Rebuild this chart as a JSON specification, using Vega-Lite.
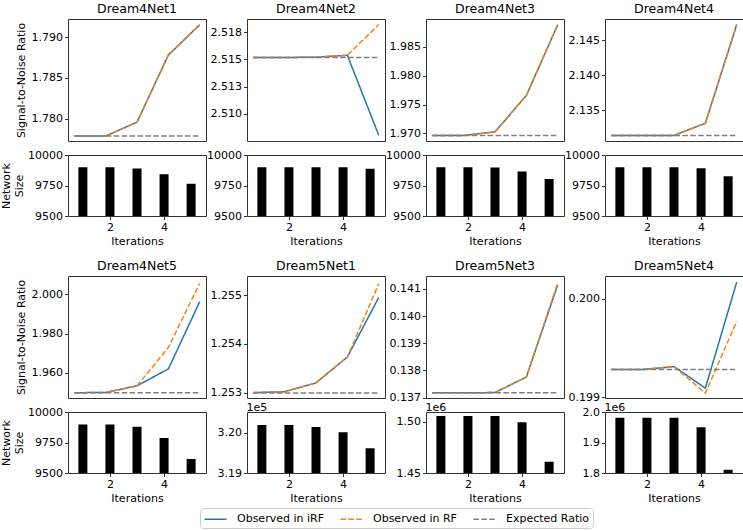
{
  "$schema": "https://vega.github.io/schema/vega-lite/v6.json",
  "padding": {"left": 0, "top": 2, "right": 0, "bottom": 0},
  "background": "white",
  "datasets": {
    "snr": [
      {"net":"Dream4Net1","iter":1,"series":"Observed in iRF","snr":1.7779},
      {"net":"Dream4Net1","iter":2,"series":"Observed in iRF","snr":1.7779},
      {"net":"Dream4Net1","iter":3,"series":"Observed in iRF","snr":1.7796},
      {"net":"Dream4Net1","iter":4,"series":"Observed in iRF","snr":1.7878},
      {"net":"Dream4Net1","iter":5,"series":"Observed in iRF","snr":1.7915},
      {"net":"Dream4Net1","iter":1,"series":"Observed in RF","snr":1.7779},
      {"net":"Dream4Net1","iter":2,"series":"Observed in RF","snr":1.7779},
      {"net":"Dream4Net1","iter":3,"series":"Observed in RF","snr":1.7796},
      {"net":"Dream4Net1","iter":4,"series":"Observed in RF","snr":1.7878},
      {"net":"Dream4Net1","iter":5,"series":"Observed in RF","snr":1.7915},
      {"net":"Dream4Net1","iter":1,"series":"Expected Ratio","snr":1.7779},
      {"net":"Dream4Net1","iter":2,"series":"Expected Ratio","snr":1.7779},
      {"net":"Dream4Net1","iter":3,"series":"Expected Ratio","snr":1.7779},
      {"net":"Dream4Net1","iter":4,"series":"Expected Ratio","snr":1.7779},
      {"net":"Dream4Net1","iter":5,"series":"Expected Ratio","snr":1.7779},

      {"net":"Dream4Net2","iter":1,"series":"Observed in iRF","snr":2.51516},
      {"net":"Dream4Net2","iter":2,"series":"Observed in iRF","snr":2.51516},
      {"net":"Dream4Net2","iter":3,"series":"Observed in iRF","snr":2.5152},
      {"net":"Dream4Net2","iter":4,"series":"Observed in iRF","snr":2.51537},
      {"net":"Dream4Net2","iter":5,"series":"Observed in iRF","snr":2.50803},
      {"net":"Dream4Net2","iter":1,"series":"Observed in RF","snr":2.51516},
      {"net":"Dream4Net2","iter":2,"series":"Observed in RF","snr":2.51516},
      {"net":"Dream4Net2","iter":3,"series":"Observed in RF","snr":2.5152},
      {"net":"Dream4Net2","iter":4,"series":"Observed in RF","snr":2.51537},
      {"net":"Dream4Net2","iter":5,"series":"Observed in RF","snr":2.51819},
      {"net":"Dream4Net2","iter":1,"series":"Expected Ratio","snr":2.51516},
      {"net":"Dream4Net2","iter":2,"series":"Expected Ratio","snr":2.51516},
      {"net":"Dream4Net2","iter":3,"series":"Expected Ratio","snr":2.51516},
      {"net":"Dream4Net2","iter":4,"series":"Expected Ratio","snr":2.51516},
      {"net":"Dream4Net2","iter":5,"series":"Expected Ratio","snr":2.51516},

      {"net":"Dream4Net3","iter":1,"series":"Observed in iRF","snr":1.96966},
      {"net":"Dream4Net3","iter":2,"series":"Observed in iRF","snr":1.96966},
      {"net":"Dream4Net3","iter":3,"series":"Observed in iRF","snr":1.97028},
      {"net":"Dream4Net3","iter":4,"series":"Observed in iRF","snr":1.97658},
      {"net":"Dream4Net3","iter":5,"series":"Observed in iRF","snr":1.98881},
      {"net":"Dream4Net3","iter":1,"series":"Observed in RF","snr":1.96966},
      {"net":"Dream4Net3","iter":2,"series":"Observed in RF","snr":1.96966},
      {"net":"Dream4Net3","iter":3,"series":"Observed in RF","snr":1.97028},
      {"net":"Dream4Net3","iter":4,"series":"Observed in RF","snr":1.97658},
      {"net":"Dream4Net3","iter":5,"series":"Observed in RF","snr":1.98881},
      {"net":"Dream4Net3","iter":1,"series":"Expected Ratio","snr":1.96966},
      {"net":"Dream4Net3","iter":2,"series":"Expected Ratio","snr":1.96966},
      {"net":"Dream4Net3","iter":3,"series":"Expected Ratio","snr":1.96966},
      {"net":"Dream4Net3","iter":4,"series":"Expected Ratio","snr":1.96966},
      {"net":"Dream4Net3","iter":5,"series":"Expected Ratio","snr":1.96966},

      {"net":"Dream4Net4","iter":1,"series":"Observed in iRF","snr":2.1314},
      {"net":"Dream4Net4","iter":2,"series":"Observed in iRF","snr":2.1314},
      {"net":"Dream4Net4","iter":3,"series":"Observed in iRF","snr":2.1314},
      {"net":"Dream4Net4","iter":4,"series":"Observed in iRF","snr":2.13313},
      {"net":"Dream4Net4","iter":5,"series":"Observed in iRF","snr":2.14721},
      {"net":"Dream4Net4","iter":1,"series":"Observed in RF","snr":2.1314},
      {"net":"Dream4Net4","iter":2,"series":"Observed in RF","snr":2.1314},
      {"net":"Dream4Net4","iter":3,"series":"Observed in RF","snr":2.1314},
      {"net":"Dream4Net4","iter":4,"series":"Observed in RF","snr":2.13313},
      {"net":"Dream4Net4","iter":5,"series":"Observed in RF","snr":2.14721},
      {"net":"Dream4Net4","iter":1,"series":"Expected Ratio","snr":2.1314},
      {"net":"Dream4Net4","iter":2,"series":"Expected Ratio","snr":2.1314},
      {"net":"Dream4Net4","iter":3,"series":"Expected Ratio","snr":2.1314},
      {"net":"Dream4Net4","iter":4,"series":"Expected Ratio","snr":2.1314},
      {"net":"Dream4Net4","iter":5,"series":"Expected Ratio","snr":2.1314},

      {"net":"Dream4Net5","iter":1,"series":"Observed in iRF","snr":1.9499},
      {"net":"Dream4Net5","iter":2,"series":"Observed in iRF","snr":1.95},
      {"net":"Dream4Net5","iter":3,"series":"Observed in iRF","snr":1.95342},
      {"net":"Dream4Net5","iter":4,"series":"Observed in iRF","snr":1.96202},
      {"net":"Dream4Net5","iter":5,"series":"Observed in iRF","snr":1.9963},
      {"net":"Dream4Net5","iter":1,"series":"Observed in RF","snr":1.9499},
      {"net":"Dream4Net5","iter":2,"series":"Observed in RF","snr":1.95},
      {"net":"Dream4Net5","iter":3,"series":"Observed in RF","snr":1.95342},
      {"net":"Dream4Net5","iter":4,"series":"Observed in RF","snr":1.97292},
      {"net":"Dream4Net5","iter":5,"series":"Observed in RF","snr":2.00572},
      {"net":"Dream4Net5","iter":1,"series":"Expected Ratio","snr":1.9499},
      {"net":"Dream4Net5","iter":2,"series":"Expected Ratio","snr":1.9499},
      {"net":"Dream4Net5","iter":3,"series":"Expected Ratio","snr":1.9499},
      {"net":"Dream4Net5","iter":4,"series":"Expected Ratio","snr":1.9499},
      {"net":"Dream4Net5","iter":5,"series":"Expected Ratio","snr":1.9499},

      {"net":"Dream5Net1","iter":1,"series":"Observed in iRF","snr":1.253},
      {"net":"Dream5Net1","iter":2,"series":"Observed in iRF","snr":1.25302},
      {"net":"Dream5Net1","iter":3,"series":"Observed in iRF","snr":1.2532},
      {"net":"Dream5Net1","iter":4,"series":"Observed in iRF","snr":1.25373},
      {"net":"Dream5Net1","iter":5,"series":"Observed in iRF","snr":1.25495},
      {"net":"Dream5Net1","iter":1,"series":"Observed in RF","snr":1.253},
      {"net":"Dream5Net1","iter":2,"series":"Observed in RF","snr":1.25302},
      {"net":"Dream5Net1","iter":3,"series":"Observed in RF","snr":1.2532},
      {"net":"Dream5Net1","iter":4,"series":"Observed in RF","snr":1.25373},
      {"net":"Dream5Net1","iter":5,"series":"Observed in RF","snr":1.25523},
      {"net":"Dream5Net1","iter":1,"series":"Expected Ratio","snr":1.25299},
      {"net":"Dream5Net1","iter":2,"series":"Expected Ratio","snr":1.25299},
      {"net":"Dream5Net1","iter":3,"series":"Expected Ratio","snr":1.25299},
      {"net":"Dream5Net1","iter":4,"series":"Expected Ratio","snr":1.25299},
      {"net":"Dream5Net1","iter":5,"series":"Expected Ratio","snr":1.25299},

      {"net":"Dream5Net3","iter":1,"series":"Observed in iRF","snr":0.13718},
      {"net":"Dream5Net3","iter":2,"series":"Observed in iRF","snr":0.13718},
      {"net":"Dream5Net3","iter":3,"series":"Observed in iRF","snr":0.13719},
      {"net":"Dream5Net3","iter":4,"series":"Observed in iRF","snr":0.13776},
      {"net":"Dream5Net3","iter":5,"series":"Observed in iRF","snr":0.14115},
      {"net":"Dream5Net3","iter":1,"series":"Observed in RF","snr":0.13718},
      {"net":"Dream5Net3","iter":2,"series":"Observed in RF","snr":0.13718},
      {"net":"Dream5Net3","iter":3,"series":"Observed in RF","snr":0.13719},
      {"net":"Dream5Net3","iter":4,"series":"Observed in RF","snr":0.13776},
      {"net":"Dream5Net3","iter":5,"series":"Observed in RF","snr":0.14122},
      {"net":"Dream5Net3","iter":1,"series":"Expected Ratio","snr":0.13718},
      {"net":"Dream5Net3","iter":2,"series":"Expected Ratio","snr":0.13718},
      {"net":"Dream5Net3","iter":3,"series":"Expected Ratio","snr":0.13718},
      {"net":"Dream5Net3","iter":4,"series":"Expected Ratio","snr":0.13718},
      {"net":"Dream5Net3","iter":5,"series":"Expected Ratio","snr":0.13718},

      {"net":"Dream5Net4","iter":1,"series":"Observed in iRF","snr":0.19928},
      {"net":"Dream5Net4","iter":2,"series":"Observed in iRF","snr":0.19928},
      {"net":"Dream5Net4","iter":3,"series":"Observed in iRF","snr":0.19931},
      {"net":"Dream5Net4","iter":4,"series":"Observed in iRF","snr":0.19909},
      {"net":"Dream5Net4","iter":5,"series":"Observed in iRF","snr":0.20017},
      {"net":"Dream5Net4","iter":1,"series":"Observed in RF","snr":0.19928},
      {"net":"Dream5Net4","iter":2,"series":"Observed in RF","snr":0.19928},
      {"net":"Dream5Net4","iter":3,"series":"Observed in RF","snr":0.19931},
      {"net":"Dream5Net4","iter":4,"series":"Observed in RF","snr":0.19904},
      {"net":"Dream5Net4","iter":5,"series":"Observed in RF","snr":0.19977},
      {"net":"Dream5Net4","iter":1,"series":"Expected Ratio","snr":0.19928},
      {"net":"Dream5Net4","iter":2,"series":"Expected Ratio","snr":0.19928},
      {"net":"Dream5Net4","iter":3,"series":"Expected Ratio","snr":0.19928},
      {"net":"Dream5Net4","iter":4,"series":"Expected Ratio","snr":0.19928},
      {"net":"Dream5Net4","iter":5,"series":"Expected Ratio","snr":0.19928}
    ],
    "size": [
      {"net":"Dream4Net1","iter":1,"size":9900},
      {"net":"Dream4Net1","iter":2,"size":9900},
      {"net":"Dream4Net1","iter":3,"size":9889},
      {"net":"Dream4Net1","iter":4,"size":9842},
      {"net":"Dream4Net1","iter":5,"size":9765},
      {"net":"Dream4Net2","iter":1,"size":9900},
      {"net":"Dream4Net2","iter":2,"size":9900},
      {"net":"Dream4Net2","iter":3,"size":9900},
      {"net":"Dream4Net2","iter":4,"size":9900},
      {"net":"Dream4Net2","iter":5,"size":9887},
      {"net":"Dream4Net3","iter":1,"size":9900},
      {"net":"Dream4Net3","iter":2,"size":9900},
      {"net":"Dream4Net3","iter":3,"size":9897},
      {"net":"Dream4Net3","iter":4,"size":9865},
      {"net":"Dream4Net3","iter":5,"size":9804},
      {"net":"Dream4Net4","iter":1,"size":9900},
      {"net":"Dream4Net4","iter":2,"size":9900},
      {"net":"Dream4Net4","iter":3,"size":9900},
      {"net":"Dream4Net4","iter":4,"size":9892},
      {"net":"Dream4Net4","iter":5,"size":9826},
      {"net":"Dream4Net5","iter":1,"size":9898},
      {"net":"Dream4Net5","iter":2,"size":9898},
      {"net":"Dream4Net5","iter":3,"size":9880},
      {"net":"Dream4Net5","iter":4,"size":9787},
      {"net":"Dream4Net5","iter":5,"size":9615},
      {"net":"Dream5Net1","iter":1,"size":320191},
      {"net":"Dream5Net1","iter":2,"size":320191},
      {"net":"Dream5Net1","iter":3,"size":320141},
      {"net":"Dream5Net1","iter":4,"size":320010},
      {"net":"Dream5Net1","iter":5,"size":319613},
      {"net":"Dream5Net3","iter":1,"size":1505900},
      {"net":"Dream5Net3","iter":2,"size":1505900},
      {"net":"Dream5Net3","iter":3,"size":1505900},
      {"net":"Dream5Net3","iter":4,"size":1499700},
      {"net":"Dream5Net3","iter":5,"size":1461100},
      {"net":"Dream5Net4","iter":1,"size":1981300},
      {"net":"Dream5Net4","iter":2,"size":1981300},
      {"net":"Dream5Net4","iter":3,"size":1981300},
      {"net":"Dream5Net4","iter":4,"size":1949800},
      {"net":"Dream5Net4","iter":5,"size":1810800}
    ],
    "empty": []
  },
  "bounds": "flush",
  "columns": 4,
  "spacing": {"row": 14, "column": 41},
  "concat": [
    {
      "width": 138, "height": 122, "title": "Dream4Net1",
      "data": {"name": "snr"},
      "transform": [{"filter": "datum.net === 'Dream4Net1'"}],
      "mark": {"type": "line", "strokeWidth": 1.5},
      "encoding": {
        "x": {"field": "iter", "type": "quantitative", "scale": {"domain": [0.8, 5.2], "nice": false, "zero": false}, "axis": null},
        "y": {"field": "snr", "type": "quantitative", "scale": {"domain": [1.7773, 1.7922], "nice": false, "zero": false}, "axis": {"values": [1.78, 1.785, 1.79], "format": ".3f", "title": "Signal-to-Noise Ratio", "titlePadding": 5}},
        "color": {"field": "series", "type": "nominal", "scale": {"domain": ["Observed in iRF", "Observed in RF", "Expected Ratio"], "range": ["#1f77b4", "#ff7f0e", "#7f7f7f"]}, "legend": {"title": null, "orient": "none", "legendX": 132, "legendY": 489, "direction": "horizontal", "columns": 3}},
        "strokeDash": {"field": "series", "type": "nominal", "scale": {"domain": ["Observed in iRF", "Observed in RF", "Expected Ratio"], "range": [[1, 0], [5.5, 2.4], [5.5, 2.4]]}, "legend": {"title": null, "orient": "none", "legendX": 132, "legendY": 489, "direction": "horizontal", "columns": 3}}
      }
    },
    {
      "width": 138, "height": 122, "title": "Dream4Net2",
      "data": {"name": "snr"},
      "transform": [{"filter": "datum.net === 'Dream4Net2'"}],
      "mark": {"type": "line", "strokeWidth": 1.5},
      "encoding": {
        "x": {"field": "iter", "type": "quantitative", "scale": {"domain": [0.8, 5.2], "nice": false, "zero": false}, "axis": null},
        "y": {"field": "snr", "type": "quantitative", "scale": {"domain": [2.5075, 2.5187], "nice": false, "zero": false}, "axis": {"values": [2.51, 2.5125, 2.515, 2.5175], "labelExpr": "datum.value < 2.511 ? '2.510' : datum.value < 2.514 ? '2.513' : datum.value < 2.516 ? '2.515' : '2.518'", "title": null}},
        "color": {"field": "series", "type": "nominal", "scale": {"domain": ["Observed in iRF", "Observed in RF", "Expected Ratio"], "range": ["#1f77b4", "#ff7f0e", "#7f7f7f"]}},
        "strokeDash": {"field": "series", "type": "nominal", "scale": {"domain": ["Observed in iRF", "Observed in RF", "Expected Ratio"], "range": [[1, 0], [5.5, 2.4], [5.5, 2.4]]}}
      }
    },
    {
      "width": 138, "height": 122, "title": "Dream4Net3",
      "data": {"name": "snr"},
      "transform": [{"filter": "datum.net === 'Dream4Net3'"}],
      "mark": {"type": "line", "strokeWidth": 1.5},
      "encoding": {
        "x": {"field": "iter", "type": "quantitative", "scale": {"domain": [0.8, 5.2], "nice": false, "zero": false}, "axis": null},
        "y": {"field": "snr", "type": "quantitative", "scale": {"domain": [1.9687, 1.9898], "nice": false, "zero": false}, "axis": {"values": [1.97, 1.975, 1.98, 1.985], "format": ".3f", "title": null}},
        "color": {"field": "series", "type": "nominal", "scale": {"domain": ["Observed in iRF", "Observed in RF", "Expected Ratio"], "range": ["#1f77b4", "#ff7f0e", "#7f7f7f"]}},
        "strokeDash": {"field": "series", "type": "nominal", "scale": {"domain": ["Observed in iRF", "Observed in RF", "Expected Ratio"], "range": [[1, 0], [5.5, 2.4], [5.5, 2.4]]}}
      }
    },
    {
      "width": 138, "height": 122, "title": "Dream4Net4",
      "data": {"name": "snr"},
      "transform": [{"filter": "datum.net === 'Dream4Net4'"}],
      "mark": {"type": "line", "strokeWidth": 1.5},
      "encoding": {
        "x": {"field": "iter", "type": "quantitative", "scale": {"domain": [0.8, 5.2], "nice": false, "zero": false}, "axis": null},
        "y": {"field": "snr", "type": "quantitative", "scale": {"domain": [2.1306, 2.148], "nice": false, "zero": false}, "axis": {"values": [2.135, 2.14, 2.145], "format": ".3f", "title": null}},
        "color": {"field": "series", "type": "nominal", "scale": {"domain": ["Observed in iRF", "Observed in RF", "Expected Ratio"], "range": ["#1f77b4", "#ff7f0e", "#7f7f7f"]}},
        "strokeDash": {"field": "series", "type": "nominal", "scale": {"domain": ["Observed in iRF", "Observed in RF", "Expected Ratio"], "range": [[1, 0], [5.5, 2.4], [5.5, 2.4]]}}
      }
    },
    {
      "width": 138, "height": 61,
      "data": {"name": "size"},
      "transform": [{"filter": "datum.net === 'Dream4Net1'"}],
      "mark": {"type": "bar", "size": 9, "color": "#000", "clip": true},
      "encoding": {
        "x": {"field": "iter", "type": "quantitative", "scale": {"domain": [0.635, 5.365], "nice": false, "zero": false}, "axis": {"values": [2, 4], "format": "d", "title": "Iterations"}},
        "y": {"field": "size", "type": "quantitative", "scale": {"domain": [9500, 10000], "nice": false, "zero": false}, "axis": {"values": [9500, 9750, 10000], "format": "d", "title": ["Network", "Size"], "titlePadding": 3.5}}
      }
    },
    {
      "width": 138, "height": 61,
      "data": {"name": "size"},
      "transform": [{"filter": "datum.net === 'Dream4Net2'"}],
      "mark": {"type": "bar", "size": 9, "color": "#000", "clip": true},
      "encoding": {
        "x": {"field": "iter", "type": "quantitative", "scale": {"domain": [0.635, 5.365], "nice": false, "zero": false}, "axis": {"values": [2, 4], "format": "d", "title": "Iterations"}},
        "y": {"field": "size", "type": "quantitative", "scale": {"domain": [9500, 10000], "nice": false, "zero": false}, "axis": {"values": [9500, 9750, 10000], "format": "d", "title": null}}
      }
    },
    {
      "width": 138, "height": 61,
      "data": {"name": "size"},
      "transform": [{"filter": "datum.net === 'Dream4Net3'"}],
      "mark": {"type": "bar", "size": 9, "color": "#000", "clip": true},
      "encoding": {
        "x": {"field": "iter", "type": "quantitative", "scale": {"domain": [0.635, 5.365], "nice": false, "zero": false}, "axis": {"values": [2, 4], "format": "d", "title": "Iterations"}},
        "y": {"field": "size", "type": "quantitative", "scale": {"domain": [9500, 10000], "nice": false, "zero": false}, "axis": {"values": [9500, 9750, 10000], "format": "d", "title": null}}
      }
    },
    {
      "width": 138, "height": 61,
      "data": {"name": "size"},
      "transform": [{"filter": "datum.net === 'Dream4Net4'"}],
      "mark": {"type": "bar", "size": 9, "color": "#000", "clip": true},
      "encoding": {
        "x": {"field": "iter", "type": "quantitative", "scale": {"domain": [0.635, 5.365], "nice": false, "zero": false}, "axis": {"values": [2, 4], "format": "d", "title": "Iterations"}},
        "y": {"field": "size", "type": "quantitative", "scale": {"domain": [9500, 10000], "nice": false, "zero": false}, "axis": {"values": [9500, 9750, 10000], "format": "d", "title": null}}
      }
    },
    {"width": 138, "height": 32, "data": {"name": "empty"}, "mark": "point", "view": {"stroke": null}},
    {"width": 138, "height": 32, "data": {"name": "empty"}, "mark": "point", "view": {"stroke": null}},
    {"width": 138, "height": 32, "data": {"name": "empty"}, "mark": "point", "view": {"stroke": null}},
    {"width": 138, "height": 32, "data": {"name": "empty"}, "mark": "point", "view": {"stroke": null}},
    {
      "width": 138, "height": 122, "title": "Dream4Net5",
      "data": {"name": "snr"},
      "transform": [{"filter": "datum.net === 'Dream4Net5'"}],
      "mark": {"type": "line", "strokeWidth": 1.5},
      "encoding": {
        "x": {"field": "iter", "type": "quantitative", "scale": {"domain": [0.8, 5.2], "nice": false, "zero": false}, "axis": null},
        "y": {"field": "snr", "type": "quantitative", "scale": {"domain": [1.9472, 2.0094], "nice": false, "zero": false}, "axis": {"values": [1.96, 1.98, 2.0], "format": ".3f", "title": "Signal-to-Noise Ratio", "titlePadding": 5}},
        "color": {"field": "series", "type": "nominal", "scale": {"domain": ["Observed in iRF", "Observed in RF", "Expected Ratio"], "range": ["#1f77b4", "#ff7f0e", "#7f7f7f"]}},
        "strokeDash": {"field": "series", "type": "nominal", "scale": {"domain": ["Observed in iRF", "Observed in RF", "Expected Ratio"], "range": [[1, 0], [5.5, 2.4], [5.5, 2.4]]}}
      }
    },
    {
      "width": 138, "height": 122, "title": "Dream5Net1",
      "data": {"name": "snr"},
      "transform": [{"filter": "datum.net === 'Dream5Net1'"}],
      "mark": {"type": "line", "strokeWidth": 1.5},
      "encoding": {
        "x": {"field": "iter", "type": "quantitative", "scale": {"domain": [0.8, 5.2], "nice": false, "zero": false}, "axis": null},
        "y": {"field": "snr", "type": "quantitative", "scale": {"domain": [1.25289, 1.25539], "nice": false, "zero": false}, "axis": {"values": [1.253, 1.254, 1.255], "format": ".3f", "title": null}},
        "color": {"field": "series", "type": "nominal", "scale": {"domain": ["Observed in iRF", "Observed in RF", "Expected Ratio"], "range": ["#1f77b4", "#ff7f0e", "#7f7f7f"]}},
        "strokeDash": {"field": "series", "type": "nominal", "scale": {"domain": ["Observed in iRF", "Observed in RF", "Expected Ratio"], "range": [[1, 0], [5.5, 2.4], [5.5, 2.4]]}}
      }
    },
    {
      "width": 138, "height": 122, "title": "Dream5Net3",
      "data": {"name": "snr"},
      "transform": [{"filter": "datum.net === 'Dream5Net3'"}],
      "mark": {"type": "line", "strokeWidth": 1.5},
      "encoding": {
        "x": {"field": "iter", "type": "quantitative", "scale": {"domain": [0.8, 5.2], "nice": false, "zero": false}, "axis": null},
        "y": {"field": "snr", "type": "quantitative", "scale": {"domain": [0.13699, 0.14147], "nice": false, "zero": false}, "axis": {"values": [0.137, 0.138, 0.139, 0.14, 0.141], "format": ".3f", "title": null}},
        "color": {"field": "series", "type": "nominal", "scale": {"domain": ["Observed in iRF", "Observed in RF", "Expected Ratio"], "range": ["#1f77b4", "#ff7f0e", "#7f7f7f"]}},
        "strokeDash": {"field": "series", "type": "nominal", "scale": {"domain": ["Observed in iRF", "Observed in RF", "Expected Ratio"], "range": [[1, 0], [5.5, 2.4], [5.5, 2.4]]}}
      }
    },
    {
      "width": 138, "height": 122, "title": "Dream5Net4",
      "data": {"name": "snr"},
      "transform": [{"filter": "datum.net === 'Dream5Net4'"}],
      "mark": {"type": "line", "strokeWidth": 1.5},
      "encoding": {
        "x": {"field": "iter", "type": "quantitative", "scale": {"domain": [0.8, 5.2], "nice": false, "zero": false}, "axis": null},
        "y": {"field": "snr", "type": "quantitative", "scale": {"domain": [0.19899, 0.200232], "nice": false, "zero": false}, "axis": {"values": [0.199, 0.2], "format": ".3f", "title": null}},
        "color": {"field": "series", "type": "nominal", "scale": {"domain": ["Observed in iRF", "Observed in RF", "Expected Ratio"], "range": ["#1f77b4", "#ff7f0e", "#7f7f7f"]}},
        "strokeDash": {"field": "series", "type": "nominal", "scale": {"domain": ["Observed in iRF", "Observed in RF", "Expected Ratio"], "range": [[1, 0], [5.5, 2.4], [5.5, 2.4]]}}
      }
    },
    {
      "width": 138, "height": 61,
      "data": {"name": "size"},
      "transform": [{"filter": "datum.net === 'Dream4Net5'"}],
      "mark": {"type": "bar", "size": 9, "color": "#000", "clip": true},
      "encoding": {
        "x": {"field": "iter", "type": "quantitative", "scale": {"domain": [0.635, 5.365], "nice": false, "zero": false}, "axis": {"values": [2, 4], "format": "d", "title": "Iterations"}},
        "y": {"field": "size", "type": "quantitative", "scale": {"domain": [9500, 10000], "nice": false, "zero": false}, "axis": {"values": [9500, 9750, 10000], "format": "d", "title": ["Network", "Size"], "titlePadding": 3.5}}
      }
    },
    {
      "width": 138, "height": 61,
      "data": {"name": "size"},
      "transform": [{"filter": "datum.net === 'Dream5Net1'"}],
      "mark": {"type": "bar", "size": 9, "color": "#000", "clip": true},
      "encoding": {
        "x": {"field": "iter", "type": "quantitative", "scale": {"domain": [0.635, 5.365], "nice": false, "zero": false}, "axis": {"values": [2, 4], "format": "d", "title": "Iterations"}},
        "y": {"field": "size", "type": "quantitative", "scale": {"domain": [319000, 320514], "nice": false, "zero": false}, "axis": {"values": [319000, 320000], "labelExpr": "format(datum.value / 100000, '.2f')", "title": "1e5", "titleAngle": 0, "titleAlign": "left", "titleBaseline": "alphabetic", "titleX": -1, "titleY": -2}}
      }
    },
    {
      "width": 138, "height": 61,
      "data": {"name": "size"},
      "transform": [{"filter": "datum.net === 'Dream5Net3'"}],
      "mark": {"type": "bar", "size": 9, "color": "#000", "clip": true},
      "encoding": {
        "x": {"field": "iter", "type": "quantitative", "scale": {"domain": [0.635, 5.365], "nice": false, "zero": false}, "axis": {"values": [2, 4], "format": "d", "title": "Iterations"}},
        "y": {"field": "size", "type": "quantitative", "scale": {"domain": [1450000, 1509800], "nice": false, "zero": false}, "axis": {"values": [1450000, 1500000], "labelExpr": "format(datum.value / 1000000, '.2f')", "title": "1e6", "titleAngle": 0, "titleAlign": "left", "titleBaseline": "alphabetic", "titleX": -1, "titleY": -2}}
      }
    },
    {
      "width": 138, "height": 61,
      "data": {"name": "size"},
      "transform": [{"filter": "datum.net === 'Dream5Net4'"}],
      "mark": {"type": "bar", "size": 9, "color": "#000", "clip": true},
      "encoding": {
        "x": {"field": "iter", "type": "quantitative", "scale": {"domain": [0.635, 5.365], "nice": false, "zero": false}, "axis": {"values": [2, 4], "format": "d", "title": "Iterations"}},
        "y": {"field": "size", "type": "quantitative", "scale": {"domain": [1800000, 2000000], "nice": false, "zero": false}, "axis": {"values": [1800000, 1900000, 2000000], "labelExpr": "format(datum.value / 1000000, '.1f')", "title": "1e6", "titleAngle": 0, "titleAlign": "left", "titleBaseline": "alphabetic", "titleX": -1, "titleY": -2}}
      }
    }
  ],
  "config": {
    "font": "DejaVu Sans",
    "view": {"stroke": "#333333", "strokeWidth": 1},
    "axis": {
      "labelFont": "DejaVu Sans", "titleFont": "DejaVu Sans",
      "labelFontSize": 11, "titleFontSize": 11,
      "labelColor": "#000000", "titleColor": "#000000",
      "titleFontWeight": "normal",
      "tickColor": "#333333", "tickSize": 3.5, "tickWidth": 1,
      "domain": false, "grid": false,
      "labelPadding": 2, "titlePadding": 3, "titleLineHeight": 12.5
    },
    "title": {"font": "DejaVu Sans", "fontSize": 12.5, "fontWeight": "normal", "color": "#000000", "offset": 3.3, "baseline": "alphabetic"},
    "legend": {
      "symbolType": "M-1.7,0H1.7", "symbolSize": 169, "symbolStrokeWidth": 1.5, "symbolOffset": 4.5,
      "symbolFillColor": "transparent",
      "labelFont": "DejaVu Sans", "labelFontSize": 11, "labelColor": "#000000",
      "labelOffset": 14, "columnPadding": 12, "padding": 3.5,
      "strokeColor": "#cccccc", "fillColor": "#ffffff", "cornerRadius": 3
    }
  }
}
